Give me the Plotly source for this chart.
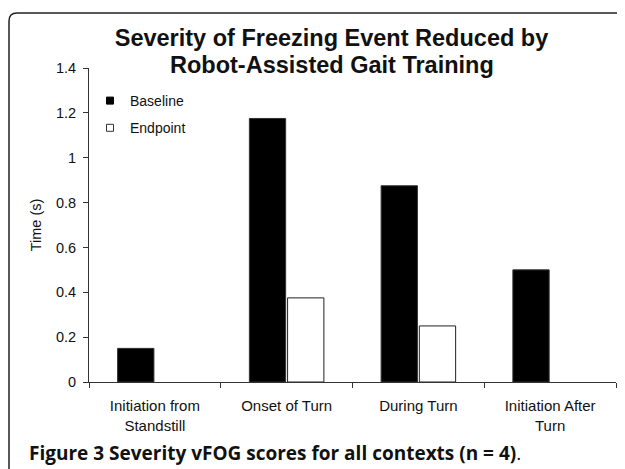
import plotly.graph_objects as go

# ---- data ----
categories = ["Initiation from<br>Standstill", "Onset of Turn", "During Turn", "Initiation After<br>Turn"]
baseline = [0.15, 1.175, 0.875, 0.5]
endpoint = [0.0, 0.375, 0.25, 0.0]
series_names = ["Baseline", "Endpoint"]
y_ticks = [0, 0.2, 0.4, 0.6, 0.8, 1.0, 1.2, 1.4]
title_lines = ["Severity of Freezing Event Reduced by", "Robot-Assisted Gait Training"]
caption_bold = "Figure 3 Severity vFOG scores for all contexts (n = 4)"

# page body adds an 8px margin, so lay out in reference pixels minus 8
OFF = 8
W, H = 625 - OFF, 469 - OFF
L, T = 89 - OFF, 68 - OFF
R = W - (616 - OFF)
B = H - (382 - OFF)
pw, ph = W - L - R, H - T - B

def px(x_ref):
    return (x_ref - OFF - L) / pw

def py(y_ref):
    return (H - B - (y_ref - OFF)) / ph

FONT = "Liberation Sans, Arial, sans-serif"

fig = go.Figure()
fig.add_trace(go.Bar(x=categories, y=baseline, name=series_names[0],
                     marker=dict(color="black",
                                 line=dict(color="#333", width=[0 if v == 0 else 1 for v in baseline])),
                     showlegend=False))
fig.add_trace(go.Bar(x=categories, y=endpoint, name=series_names[1],
                     marker=dict(color="white",
                                 line=dict(color="#222", width=[0 if v == 0 else 1 for v in endpoint])),
                     showlegend=False))
# legend proxies (small square markers)
fig.add_trace(go.Scatter(x=[None], y=[None], mode="markers", name=series_names[0],
                         legendgroup="a",
                         marker=dict(symbol="square", size=7, color="black",
                                     line=dict(color="black", width=1))))
fig.add_trace(go.Scatter(x=[None], y=[None], mode="markers", name=series_names[1],
                         legendgroup="b",
                         marker=dict(symbol="square", size=7, color="white",
                                     line=dict(color="#333", width=1))))

# rounded frame
r = 8
x0, x1 = px(9), px(623)
y0, y1 = py(13), py(475)
rx, ry = r / pw, r / ph
frame = (f"M {x0},{y1} L {x0},{y0 - ry} Q {x0},{y0} {x0 + rx},{y0} L {x1},{y0}")

fig.update_layout(
    width=W, height=H,
    margin=dict(l=L, r=R, t=T, b=B),
    paper_bgcolor="white", plot_bgcolor="white",
    font=dict(family=FONT, size=14, color="#111"),
    barmode="group", bargap=0.42, bargroupgap=0.05,
    title=dict(text=f"<b>{title_lines[0]}</b>",
               font=dict(family=FONT, size=23.5, color="#111"),
               x=px(331.5), xref="paper", xanchor="center",
               y=1 - (38 - OFF) / H, yref="container", yanchor="middle"),
    showlegend=True,
    legend=dict(x=px(90), xanchor="left", y=py(85), yanchor="top",
                bgcolor="rgba(0,0,0,0)", borderwidth=0,
                font=dict(family=FONT, size=14, color="#111"),
                itemsizing="trace", traceorder="grouped", tracegroupgap=6),
    xaxis=dict(type="category", range=[-0.5, 3.5], showline=True, linecolor="#333",
               linewidth=1, ticks="outside", tickson="boundaries", ticklen=5,
               tickcolor="#333", showgrid=False, zeroline=False, ticklabelstandoff=10,
               tickfont=dict(family=FONT, size=15, color="#111")),
    yaxis=dict(range=[0, 1.4], tickvals=y_ticks, showline=True, linecolor="#333",
               linewidth=1, ticks="outside", ticklen=5, tickcolor="#333",
               showgrid=False, zeroline=False, ticklabelstandoff=4,
               tickfont=dict(family=FONT, size=14.5, color="#111"),
               title=dict(text="Time (s)", font=dict(family=FONT, size=14.5, color="#111"),
                          standoff=10)),
    shapes=[dict(type="path", path=frame, xref="paper", yref="paper",
                 line=dict(color="#222", width=1.5), fillcolor="rgba(0,0,0,0)",
                 layer="above")],
    annotations=[
        dict(text=f"<b>{title_lines[1]}</b>", xref="paper", yref="paper",
             x=px(331.5), y=py(65), xanchor="center", yanchor="middle", showarrow=False,
             font=dict(family=FONT, size=23.5, color="#111")),
        dict(text=f"<b>{caption_bold}</b>.",
             xref="paper", yref="paper", x=px(27), y=py(453),
             xanchor="left", yanchor="middle", showarrow=False,
             font=dict(family="Open Sans, sans-serif", size=19, color="#111")),
    ],
)

fig.write_html("out.html")
